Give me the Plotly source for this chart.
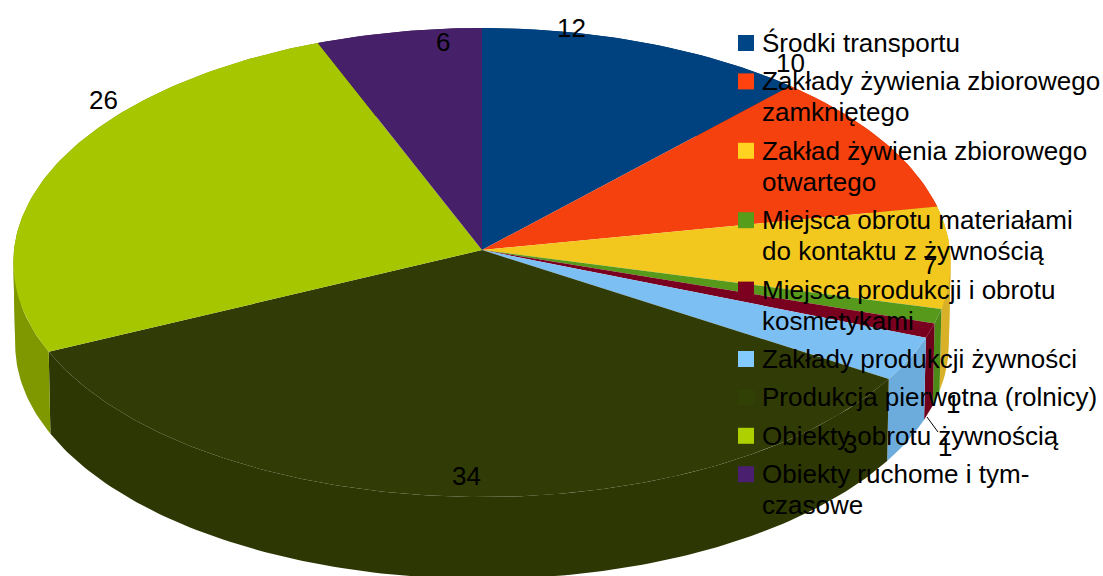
import numpy as np
import plotly.graph_objects as go

# ---- data ----
categories = [
    "Środki transportu",
    "Zakłady żywienia zbiorowego<br>zamkniętego",
    "Zakład żywienia zbiorowego<br>otwartego",
    "Miejsca obrotu materiałami<br>do kontaktu z żywnością",
    "Miejsca produkcji i obrotu<br>kosmetykami",
    "Zakłady produkcji żywności",
    "Produkcja pierwotna (rolnicy)",
    "Obiekty obrotu żywnością",
    "Obiekty ruchome i tym-<br>czasowe",
]
values = [12, 10, 7, 1, 1, 3, 34, 26, 6]

legend_colors = ["#004586", "#ff420e", "#ffd320", "#579d1c", "#7e0021",
                 "#83caff", "#314004", "#aecf00", "#4b1f6f"]
top_colors = ["#00417f", "#f4410e", "#f2c81e", "#56991b", "#7a0020",
              "#7cbff2", "#303b05", "#a6c600", "#47206a"]
side_colors = ["#00376c", "#d0370c", "#d9b128", "#4c8a18", "#6e001c",
               "#6cacdc", "#2d3703", "#7f9800", "#3c1b5a"]

# label anchor positions in the picture
label_x = [571, 790, 930, 953, 945, 850, 466, 103, 443]
label_y = [28, 63, 265, 404, 447, 444, 476, 100, 42]

# ---- projection of the tilted disc ----
CX, CY, RX, RY, K, DEPTH = 482, 250, 468, 233.8, 0.0533, 82


def project(theta):
    d = 1 + K * np.cos(theta)
    return CX + RX * np.sin(theta) / d, CY - RY * np.cos(theta) / d


def wall_bands(arc):
    """Wall of one slice, cut at the rim's left/right extremes so each band is simple."""
    x, _ = project(arc)
    cuts = sorted({0, int(np.argmin(x)), int(np.argmax(x)), len(arc) - 1})
    for a, b in zip(cuts[:-1], cuts[1:]):
        px, py = project(arc[a:b + 1])
        bx = CX + (px - CX) * 0.996
        by = py + DEPTH
        yield np.concatenate([px, bx[::-1], px[:1]]), np.concatenate([py, by[::-1], py[:1]])


fig = go.Figure()
cum = np.concatenate([[0], np.cumsum(values)]) / sum(values) * 2 * np.pi
arcs = [np.linspace(a, b, max(8, int((b - a) * 60))) for a, b in zip(cum[:-1], cum[1:])]

# walls first
for arc, col in zip(arcs, side_colors):
    for xs, ys in wall_bands(arc):
        fig.add_trace(go.Scatter(
            x=xs, y=ys, mode="lines", fill="toself", fillcolor=col, line=dict(width=0),
            hoverinfo="skip", showlegend=False))

# top faces
for arc, col in zip(arcs, top_colors):
    x, y = project(arc)
    fig.add_trace(go.Scatter(
        x=np.concatenate([[CX], x, [CX]]), y=np.concatenate([[CY], y, [CY]]),
        mode="lines", fill="toself", fillcolor=col, line=dict(width=0),
        hoverinfo="skip", showlegend=False))

annotations = [
    dict(x=lx, y=ly, text=str(v), showarrow=False, xanchor="center", yanchor="middle",
         font=dict(family="Liberation Sans", size=26, color="#000000"))
    for v, lx, ly in zip(values, label_x, label_y)
]

# legend: square swatch plus one text row per line
LEG_SWATCH_X, LEG_TEXT_X, LEG_Y0, ROW, LINE = 746, 762, 43, 38.4, 31
y_cursor = LEG_Y0
for name, col in zip(categories, legend_colors):
    lines = name.split("<br>")
    fig.add_trace(go.Scatter(
        x=[LEG_SWATCH_X], y=[y_cursor], mode="markers", name=lines[0],
        marker=dict(symbol="square", size=16, color=col),
        hoverinfo="name", showlegend=False))
    for i, line in enumerate(lines):
        annotations.append(dict(
            x=LEG_TEXT_X, y=y_cursor + i * LINE, text=line, showarrow=False,
            xanchor="left", yanchor="middle", xshift=-2,
            font=dict(family="Liberation Sans", size=26, color="#000000")))
    y_cursor += ROW + (len(lines) - 1) * LINE

fig.update_layout(
    width=1103, height=576, autosize=False,
    margin=dict(l=0, r=0, t=0, b=0),
    paper_bgcolor="white", plot_bgcolor="white",
    showlegend=False,
    xaxis=dict(range=[0, 1103], visible=False, fixedrange=True),
    yaxis=dict(range=[576, 0], visible=False, fixedrange=True),
    annotations=annotations,
    shapes=[dict(type="line", x0=927, y0=417, x1=938, y1=432,
                 line=dict(color="#000000", width=1))],
)
fig.write_html("out.html", config=dict(displayModeBar=False),
               post_script="document.body.style.margin='0';document.body.style.overflow='hidden';")
